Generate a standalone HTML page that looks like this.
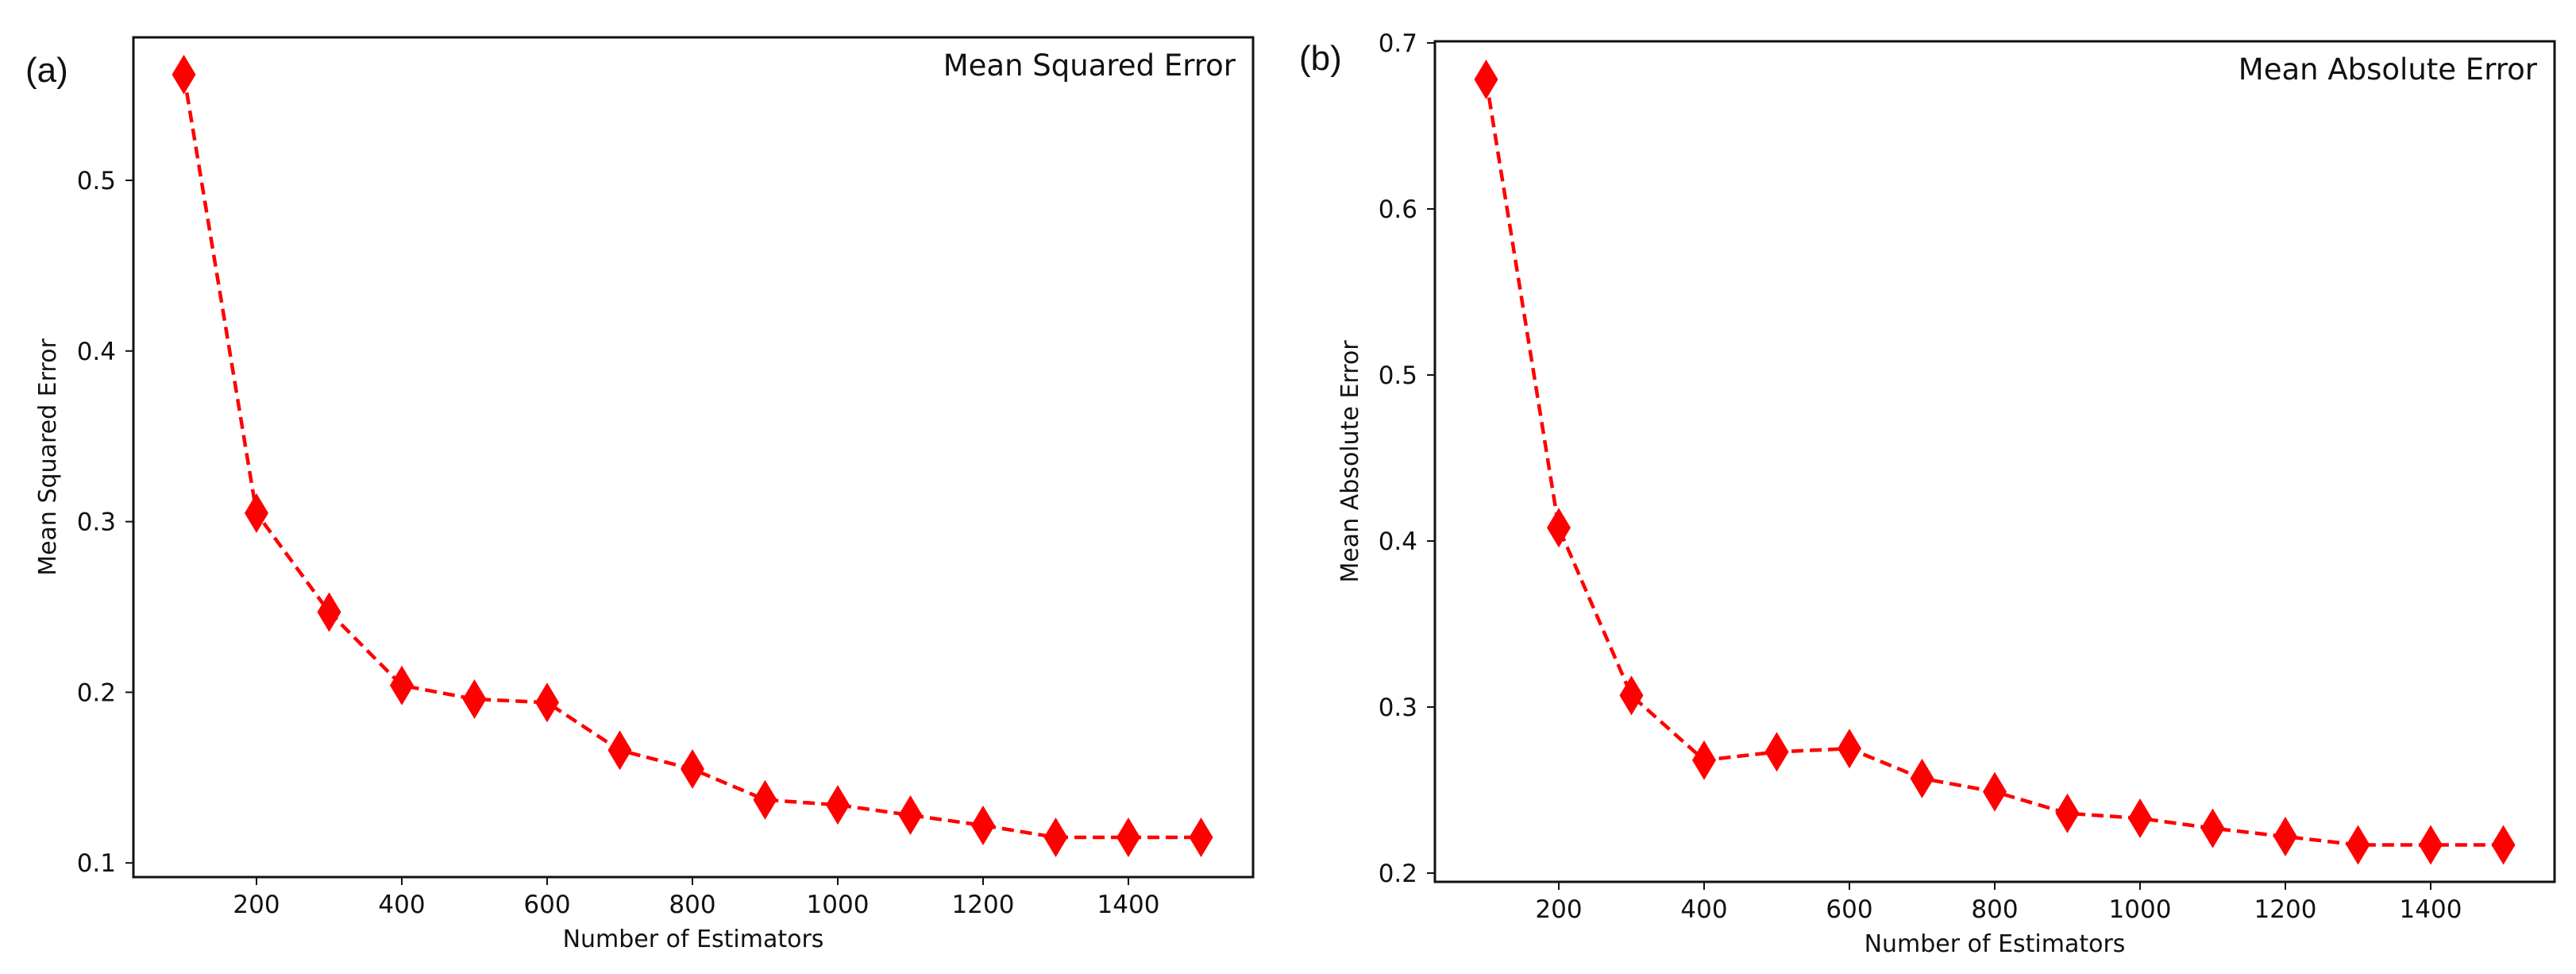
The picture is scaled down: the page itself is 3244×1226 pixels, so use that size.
<!DOCTYPE html>
<html><head><meta charset="utf-8"><style>
html,body{margin:0;padding:0;background:#fff;}
svg{display:block;font-family:"DejaVu Sans","Liberation Sans",sans-serif;}
</style></head><body>
<svg id="chart" width="3244" height="1226" viewBox="0 0 3244 1226" xmlns="http://www.w3.org/2000/svg"></svg>
<script>
const estimators = [100,200,300,400,500,600,700,800,900,1000,1100,1200,1300,1400,1500];
const mseValues = [0.562,0.305,0.247,0.204,0.196,0.194,0.166,0.155,0.137,0.134,0.128,0.122,0.115,0.115,0.115];
const maeValues = [0.678,0.408,0.307,0.268,0.273,0.275,0.257,0.249,0.236,0.233,0.227,0.222,0.217,0.217,0.217];
const xTicks = [200,400,600,800,1000,1200,1400];
const mseYTicks = [0.1,0.2,0.3,0.4,0.5];
const maeYTicks = [0.2,0.3,0.4,0.5,0.6,0.7];

const NS = 'http://www.w3.org/2000/svg';
const svg = document.getElementById('chart');
function mk(tag, attrs, parent){
  const e = document.createElementNS(NS, tag);
  for (const k in attrs) e.setAttribute(k, attrs[k]);
  (parent||svg).appendChild(e);
  return e;
}
function panel(cfg){
  const g = mk('g', {});
  
  
  const xs = v => cfg.x0px + (v - cfg.x0v) * cfg.xk;
  const ys = v => cfg.y0px - (v - cfg.y0v) * cfg.yk;
  // axes frame
  const frame = mk('rect', {x:cfg.L, y:cfg.T, width:cfg.R-cfg.L, height:cfg.B-cfg.T, fill:'none', stroke:'#111', 'stroke-width':3}, g);
  
  
  // x ticks
  xTicks.forEach(t => {
    const x = xs(t);
    mk('line', {x1:x, x2:x, y1:cfg.B, y2:cfg.B+10, stroke:'#111', 'stroke-width':2}, g);
    const tx = mk('text', {x:x, y:cfg.B+45, 'font-size':31, 'text-anchor':'middle', fill:'#111'}, g);
    tx.textContent = t;
    
    
  });
  // y ticks
  cfg.yTicks.forEach(t => {
    const y = ys(t);
    mk('line', {x1:cfg.L-10, x2:cfg.L, y1:y, y2:y, stroke:'#111', 'stroke-width':2}, g);
    const ty = mk('text', {x:cfg.L-22, y:y+11, 'font-size':31, 'text-anchor':'end', fill:'#111'}, g);
    ty.textContent = t.toFixed(1);
    
    
  });
  // line
  const pts = estimators.map((e,i) => xs(e)+','+ys(cfg.values[i])).join(' ');
  const line = mk('polyline', {points:pts, fill:'none', stroke:'#ff0000', 'stroke-width':4.5, 'stroke-dasharray':'15 8'}, g);
  
  
  // markers
  estimators.forEach((e,i) => {
    const x = xs(e), y = ys(cfg.values[i]);
    const m = mk('polygon', {points:`${x},${y-25} ${x+15},${y} ${x},${y+25} ${x-15},${y}`, fill:'#ff0000'}, g);
    
    
  });
  // title in box
  const ti = mk('text', {x:cfg.R-22, y:cfg.T+48, 'font-size':37, 'text-anchor':'end', fill:'#111'}, g);
  ti.textContent = cfg.title;
  
  
  // x label
  const xl = mk('text', {x:(cfg.L+cfg.R)/2, y:cfg.B+88, 'font-size':30, 'text-anchor':'middle', fill:'#111'}, g);
  xl.textContent = 'Number of Estimators';
  
  
  // y label
  const yl = mk('text', {x:0, y:0, 'font-size':30, 'text-anchor':'middle', fill:'#111', transform:`translate(${cfg.ylx},${(cfg.T+cfg.B)/2}) rotate(-90)`}, g);
  yl.textContent = cfg.title;
  
  
  // panel letter
  const pl = mk('text', {x:cfg.lx, y:cfg.ly, 'font-size':44, fill:'#111', 'font-family':'"Liberation Sans",sans-serif'}, g);
  pl.textContent = cfg.letter;
  
  
}
panel({name:'mse-panel', L:168, R:1578, T:47, B:1104, x0v:200, x0px:323, xk:0.915,
  y0v:0.5, y0px:227, yk:2148, yTicks:mseYTicks, values:mseValues,
  title:'Mean Squared Error', ylx:70, lx:32, ly:103, letter:'(a)'});
panel({name:'mae-panel', L:1807, R:3217, T:52, B:1110, x0v:1200, x0px:2878, xk:0.915,
  y0v:0.2, y0px:1099, yk:2090, yTicks:maeYTicks, values:maeValues,
  title:'Mean Absolute Error', ylx:1710, lx:1636, ly:88, letter:'(b)'});
</script>
</body></html>
